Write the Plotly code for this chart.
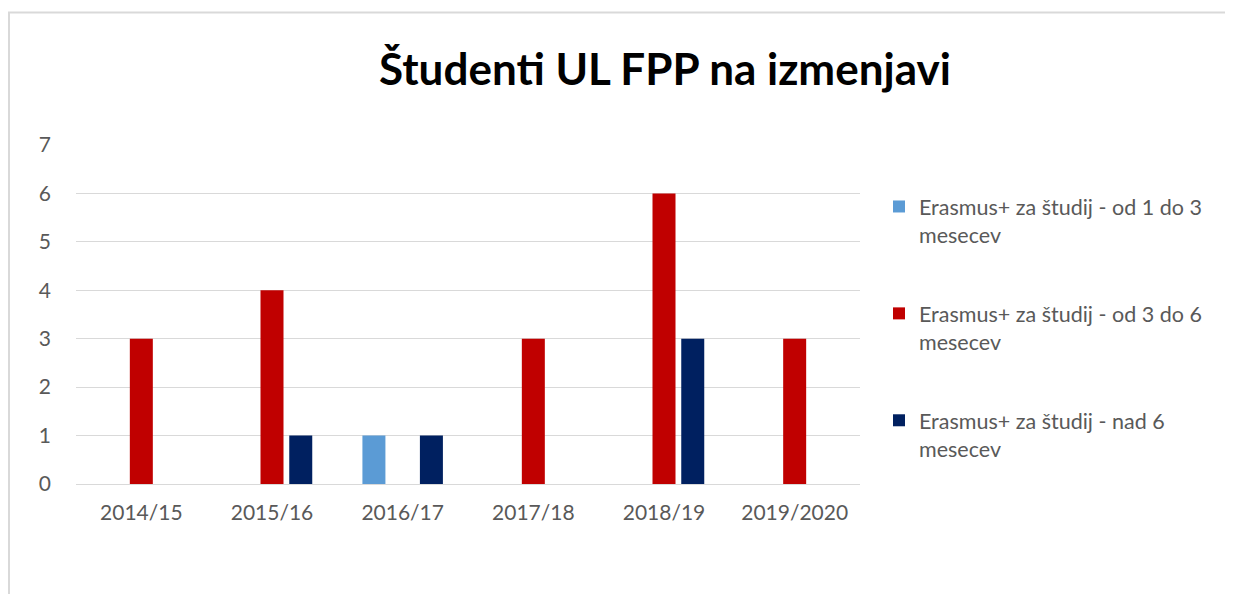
import plotly.graph_objects as go

categories = ["2014/15", "2015/16", "2016/17", "2017/18", "2018/19", "2019/2020"]
series_names = [
    "Erasmus+ za študij - od 1 do 3<br>mesecev",
    "Erasmus+ za študij - od 3 do 6<br>mesecev",
    "Erasmus+ za študij - nad 6<br>mesecev",
]
vals_1_3 = [0, 0, 1, 0, 0, 0]
vals_3_6 = [3, 4, 0, 3, 6, 3]
vals_6p = [0, 1, 1, 0, 3, 0]
colors = ["#5b9bd5", "#c00000", "#002060"]

W, H = 1233, 594
OFF = 8  # page body margin
L, R, T, B = 76 - OFF, 860 - OFF, 145 - OFF, 484 - OFF
FONT = "Lato, Open Sans, sans-serif"

fig = go.Figure()
for i, (name, vals, c) in enumerate(zip(series_names, [vals_1_3, vals_3_6, vals_6p], colors)):
    fig.add_trace(go.Bar(x=categories, y=vals, name=name, legendgroup=f"g{i}",
                         marker=dict(color=c, line=dict(width=0))))

pw, ph = R - L, B - T
def px(xs):  # screen x -> paper
    return (xs - OFF - L) / pw
def py(ys):  # screen y -> paper
    return (B - (ys - OFF)) / ph

fig.add_shape(type="rect", xref="paper", yref="paper",
              x0=px(9), x1=px(1260), y0=py(620), y1=py(12.5),
              line=dict(color="#d9d9d9", width=2), fillcolor="rgba(0,0,0,0)", layer="below")

fig.update_layout(
    width=W, height=H,
    margin=dict(l=L, r=W - R, t=T, b=H - B, pad=0),
    paper_bgcolor="white", plot_bgcolor="white",
    barmode="group", bargap=0.34, bargroupgap=0.2,
    font=dict(family=FONT, color="#595959", size=21),
    title=dict(text="<b>Študenti UL FPP na izmenjavi</b>", x=(665 - OFF) / W, xref="container", xanchor="center",
               y=1 - (70 - OFF) / H, yref="container", yanchor="middle",
               font=dict(size=44, color="#000000", family=FONT)),
    legend=dict(x=px(879), xanchor="left", y=py(186), yanchor="top", valign="top",
                font=dict(size=21.5, color="#595959", family=FONT), tracegroupgap=48,
                bgcolor="rgba(0,0,0,0)", itemwidth=30),
    showlegend=True,
)
fig.update_xaxes(showgrid=False, showline=False, ticks="", ticklabelstandoff=14,
                 tickfont=dict(size=21, color="#595959", family=FONT))
fig.update_yaxes(range=[0, 7], dtick=1, showgrid=True, gridcolor="#d9d9d9", gridwidth=1.3,
                 zeroline=True, zerolinecolor="#d9d9d9", zerolinewidth=1.3, showline=False,
                 ticks="", ticklabelstandoff=24, tickfont=dict(size=21, color="#595959", family=FONT))

fig.write_html("out.html")
